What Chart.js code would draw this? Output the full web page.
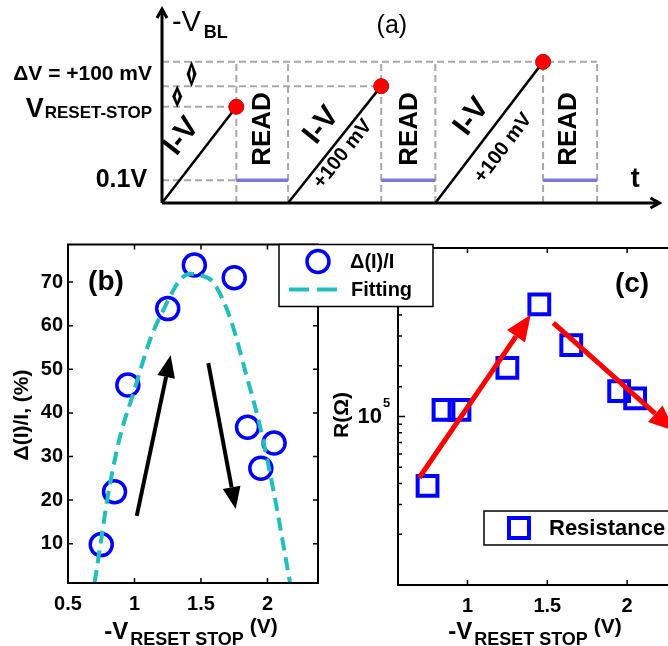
<!DOCTYPE html>
<html>
<head>
<meta charset="utf-8">
<script src="https://cdn.jsdelivr.net/npm/chart.js@4.4.1/dist/chart.umd.min.js"></script>
<style>
  html, body { margin: 0; padding: 0; background: #fff; }
  #wrap { position: relative; width: 668px; height: 646px; overflow: hidden; }
  canvas { position: absolute; }
</style>
</head>
<body>
<div id="wrap">
  <canvas id="chartA" width="668" height="215" style="left:0;top:0"></canvas>
  <canvas id="chartC" width="400" height="416" style="left:320px;top:230px"></canvas>
  <canvas id="chartB" width="440" height="416" style="left:0;top:230px"></canvas>
</div>
<script>
/* =========================
   DATA
 ========================= */
// (a) pulse scheme, t in arbitrary units, V in volts
const rampStartT = [0, 12.67, 27.47];
const rampEndT = [7.47, 22.03, 38.3];
const readEndT = [12.67, 27.47, 43.73];
const stopV = [0.424, 0.515, 0.622];
const readV = 0.1;

// (b) delta(I)/I vs -V reset stop
const bVolt = [0.75, 0.85, 0.95, 1.25, 1.45, 1.75, 1.85, 1.95, 2.05];
const bDelta = [9.8, 21.9, 46.4, 63.9, 73.9, 71.0, 36.7, 27.3, 33.1];
const fitVolt = [0.70, 0.745, 0.80, 0.89, 0.99, 1.12, 1.24, 1.34, 1.42, 1.50, 1.59, 1.72, 1.84, 1.94, 2.04, 2.17];
const fitDelta = [1, 10, 21, 34.4, 44.3, 57, 65, 70.4, 71.9, 71.5, 70, 61.7, 48.8, 37.4, 23, 1];
const bXTicks = [0.5, 1, 1.5, 2];
const bYTicks = [10, 20, 30, 40, 50, 60, 70];
const bArrows = [[1.017, 16.4, 1.272, 53.2], [1.555, 51.4, 1.761, 17.95]];

// (c) resistance vs -V reset stop
const cVolt = [0.75, 0.85, 0.95, 1.25, 1.45, 1.65, 1.95, 2.05];
const cRes = [38700, 109600, 109600, 194400, 463000, 265000, 141400, 128200];
const cXTicks = [1, 1.5, 2];
const cArrows = [[0.698, 43300, 1.396, 401000], [1.5375, 359000, 2.298, 82000]];

const FONT = "'Liberation Sans', Arial, sans-serif";
const BLUE = '#0000ff';
const CYAN = '#22bdbd';

/* =========================
   HELPERS
 ========================= */
function drawArrow(ctx, x1, y1, x2, y2, color, width, headLen, headW) {
  const ang = Math.atan2(y2 - y1, x2 - x1);
  const bx = x2 - Math.cos(ang) * headLen;
  const by = y2 - Math.sin(ang) * headLen;
  ctx.save();
  ctx.strokeStyle = color;
  ctx.fillStyle = color;
  ctx.lineWidth = width;
  ctx.beginPath();
  ctx.moveTo(x1, y1);
  ctx.lineTo(bx, by);
  ctx.stroke();
  ctx.beginPath();
  ctx.moveTo(x2, y2);
  ctx.lineTo(bx + Math.sin(ang) * headW / 2, by - Math.cos(ang) * headW / 2);
  ctx.lineTo(bx - Math.sin(ang) * headW / 2, by + Math.cos(ang) * headW / 2);
  ctx.closePath();
  ctx.fill();
  ctx.restore();
}

function text(ctx, str, x, y, size, opts = {}) {
  ctx.save();
  ctx.font = `${opts.weight || 'bold'} ${size}px ${FONT}`;
  ctx.fillStyle = '#000';
  ctx.textAlign = opts.align || 'left';
  ctx.textBaseline = opts.baseline || 'alphabetic';
  ctx.translate(x, y);
  if (opts.rot) ctx.rotate(opts.rot);
  ctx.fillText(str, 0, 0);
  ctx.restore();
}

// x title "-V_RESET STOP (V)" centred on cx
function xTitle(ctx, cx, base) {
  ctx.save();
  ctx.font = `bold 24px ${FONT}`; const w1 = ctx.measureText('-V').width;
  ctx.font = `bold 18px ${FONT}`; const w2 = ctx.measureText('RESET STOP').width;
  ctx.font = `bold 21px ${FONT}`; const w3 = ctx.measureText('(V)').width;
  ctx.restore();
  let x = cx - (w1 + w2 + w3 + 8) / 2;
  text(ctx, '-V', x, base, 24); x += w1 + 2;
  text(ctx, 'RESET STOP', x, base + 6, 18); x += w2 + 6;
  text(ctx, '(V)', x, base - 6, 21);
}

function drawFrame(chart, minorLog) {
  const { ctx, chartArea: a, scales: { x, y } } = chart;
  ctx.save();
  ctx.strokeStyle = '#000';
  ctx.lineWidth = 2;
  ctx.strokeRect(a.left, a.top, a.right - a.left, a.bottom - a.top);
  ctx.lineWidth = 1.5;
  ctx.beginPath();
  x.ticks.forEach(t => {
    const px = x.getPixelForValue(t.value);
    ctx.moveTo(px, a.bottom); ctx.lineTo(px, a.bottom - 5);
    ctx.moveTo(px, a.top); ctx.lineTo(px, a.top + 5);
  });
  y.ticks.forEach(t => {
    const py = y.getPixelForValue(t.value);
    let len = 5;
    if (minorLog) len = Number.isInteger(Math.log10(t.value)) ? 7 : 4;
    ctx.moveTo(a.left, py); ctx.lineTo(a.left + len, py);
    ctx.moveTo(a.right, py); ctx.lineTo(a.right - len, py);
  });
  ctx.stroke();
  ctx.restore();
}

const tickFont = { family: FONT, size: 20, weight: 'bold' };
const noPad = s => { s.paddingTop = 0; s.paddingBottom = 0; s.paddingLeft = 0; s.paddingRight = 0; };

/* =========================
   (a) SCHEME
 ========================= */
const dashed = { showLine: true, borderColor: '#a8a8a8', borderWidth: 2, borderDash: [7, 4], pointRadius: 0, clip: false, order: 3 };
const aSets = [];
aSets.push({ ...dashed, data: [{ x: 0, y: stopV[2] }, { x: readEndT[2], y: stopV[2] }] });
aSets.push({ ...dashed, data: [{ x: 0, y: stopV[1] }, { x: rampEndT[1], y: stopV[1] }] });
aSets.push({ ...dashed, data: [{ x: 0, y: stopV[0] }, { x: rampEndT[0], y: stopV[0] }] });
aSets.push({ ...dashed, data: [{ x: 0, y: readV }, { x: rampEndT[0], y: readV }] });
[...rampEndT, ...readEndT].forEach(t => {
  aSets.push({ ...dashed, data: [{ x: t, y: 0 }, { x: t, y: stopV[2] }] });
});
rampStartT.forEach((t0, i) => {
  aSets.push({ showLine: true, clip: false, order: 1, pointRadius: 0, borderColor: '#000', borderWidth: 2.5,
    data: [{ x: t0, y: 0 }, { x: rampEndT[i], y: stopV[i] }] });
  aSets.push({ showLine: true, clip: false, order: 2, pointRadius: 0, borderColor: '#7b7bd6', borderWidth: 3.5,
    data: [{ x: rampEndT[i], y: readV }, { x: readEndT[i], y: readV }] });
});
aSets.push({ showLine: false, clip: false, order: 0, pointRadius: 7.5, backgroundColor: '#ff0000', borderColor: '#c80000', borderWidth: 1,
  data: rampEndT.map((t, i) => ({ x: t, y: stopV[i] })) });

const aTextPlugin = {
  id: 'aText',
  afterDraw(chart) {
    const { ctx, scales: { x, y } } = chart;
    const X = v => x.getPixelForValue(v), Y = v => y.getPixelForValue(v);
    // axes with arrow heads
    ctx.save();
    ctx.strokeStyle = '#000';
    ctx.lineWidth = 3;
    ctx.beginPath();
    ctx.moveTo(X(0), Y(0)); ctx.lineTo(X(0), Y(0.855));
    ctx.moveTo(X(0) - 5, Y(0.855) + 9); ctx.lineTo(X(0), Y(0.855)); ctx.lineTo(X(0) + 5, Y(0.855) + 9);
    ctx.moveTo(X(0), Y(0)); ctx.lineTo(X(50), Y(0));
    ctx.moveTo(X(50) - 9, Y(0) - 5); ctx.lineTo(X(50), Y(0)); ctx.lineTo(X(50) - 9, Y(0) + 5);
    ctx.stroke();
    // small double arrows marking the 100 mV steps
    [[2.97, stopV[1], stopV[2]], [1.53, stopV[0], stopV[1]]].forEach(([t, v0, v1]) => {
      const px = X(t), top = Y(v1) - 1, bot = Y(v0) + 1, mid = (top + bot) / 2;
      ctx.fillStyle = '#000';
      ctx.beginPath();
      ctx.moveTo(px, top); ctx.lineTo(px + 5, mid); ctx.lineTo(px, bot); ctx.lineTo(px - 5, mid); ctx.closePath();
      ctx.fill();
      ctx.fillStyle = '#fff';
      ctx.beginPath();
      ctx.moveTo(px, top + 6); ctx.lineTo(px + 1.6, mid); ctx.lineTo(px, bot - 6); ctx.lineTo(px - 1.6, mid); ctx.closePath();
      ctx.fill();
    });
    ctx.restore();

    text(ctx, '-V', X(1.0), Y(0.759), 29, { weight: 'normal' });
    text(ctx, 'BL', X(4.2), Y(0.728), 18);
    text(ctx, '(a)', X(23.1), Y(0.78), 25, { weight: 'normal', align: 'center', baseline: 'middle' });
    text(ctx, 'ΔV = +100 mV', X(-1.0), Y(0.566), 21, { align: 'right', baseline: 'middle' });
    ctx.save();
    ctx.font = `bold 17px ${FONT}`;
    const wSub = ctx.measureText('RESET-STOP').width;
    ctx.restore();
    text(ctx, 'RESET-STOP', X(-1.0), Y(0.374), 17, { align: 'right' });
    text(ctx, 'V', X(-1.0) - wSub - 1, Y(0.379), 27, { align: 'right' });
    text(ctx, '0.1V', X(-1.5), Y(readV), 25, { align: 'right', baseline: 'middle' });
    text(ctx, 't', X(47.1), Y(0.105), 27, { baseline: 'middle' });

    const ivPos = [[1.97, 0.2934], [16.04, 0.342], [31.13, 0.380]];
    const mvPos = [null, [18.17, 0.216], [34.3, 0.242]];
    const readT = [10.1, 24.9, 40.9];
    rampStartT.forEach((t0, i) => {
      const ang = Math.atan2(Y(stopV[i]) - Y(0), X(rampEndT[i]) - X(t0));
      text(ctx, 'I-V', X(ivPos[i][0]), Y(ivPos[i][1]), 30, { align: 'center', baseline: 'middle', rot: ang });
      if (mvPos[i]) text(ctx, '+100 mV', X(mvPos[i][0]), Y(mvPos[i][1]), 20, { align: 'center', baseline: 'middle', rot: ang });
      text(ctx, 'READ', X(readT[i]), Y(0.326), 26, { align: 'center', baseline: 'middle', rot: -Math.PI / 2 });
    });
  }
};

new Chart(document.getElementById('chartA'), {
  type: 'scatter',
  data: { datasets: aSets },
  options: {
    responsive: false,
    animation: false,
    layout: { padding: { left: 162, right: 6, top: 9, bottom: 12 } },
    plugins: { legend: { display: false }, tooltip: { enabled: false } },
    scales: {
      x: { type: 'linear', min: 0, max: 50, display: false },
      y: { type: 'linear', min: 0, max: 0.855, display: false }
    }
  },
  plugins: [aTextPlugin]
});

/* =========================
   (b) DELTA(I)/I
 ========================= */
const bPlugin = {
  id: 'bDeco',
  afterDraw(chart) {
    const { ctx, chartArea: a, scales: { x, y } } = chart;
    drawFrame(chart, false);
    bArrows.forEach(([x1, y1, x2, y2]) => {
      drawArrow(ctx, x.getPixelForValue(x1), y.getPixelForValue(y1), x.getPixelForValue(x2), y.getPixelForValue(y2), '#000', 4, 22, 18);
    });
    text(ctx, '(b)', 106, a.top + 38, 28, { align: 'center', baseline: 'middle' });
    text(ctx, 'Δ(I)/I, (%)', 22, 185, 21, { align: 'center', baseline: 'middle', rot: -Math.PI / 2 });
    xTitle(ctx, 191, 409);

    // legend
    const lx = a.right - 39, ly = a.top, lw = 154, lh = 62;
    ctx.save();
    ctx.fillStyle = '#fff';
    ctx.fillRect(lx, ly, lw, lh);
    ctx.strokeStyle = '#000';
    ctx.lineWidth = 1.5;
    ctx.strokeRect(lx, ly, lw, lh);
    ctx.strokeStyle = BLUE;
    ctx.lineWidth = 3.5;
    ctx.beginPath();
    ctx.arc(lx + 39, ly + 17, 11, 0, Math.PI * 2);
    ctx.stroke();
    ctx.strokeStyle = CYAN;
    ctx.lineWidth = 4;
    ctx.setLineDash([20, 8]);
    ctx.beginPath();
    ctx.moveTo(lx + 10, ly + 45); ctx.lineTo(lx + 64, ly + 45);
    ctx.stroke();
    ctx.restore();
    text(ctx, 'Δ(I)/I', lx + 71, ly + 18, 20, { baseline: 'middle' });
    text(ctx, 'Fitting', lx + 72, ly + 46, 20, { baseline: 'middle' });
  }
};

new Chart(document.getElementById('chartB'), {
  type: 'scatter',
  data: {
    datasets: [
      {
        data: bVolt.map((v, i) => ({ x: v, y: bDelta[i] })),
        pointStyle: 'circle', pointRadius: 11, borderWidth: 3.5,
        borderColor: BLUE, backgroundColor: 'rgba(0,0,0,0)', order: 1
      },
      {
        data: fitVolt.map((v, i) => ({ x: v, y: fitDelta[i] })),
        showLine: true, pointRadius: 0, borderColor: CYAN, borderWidth: 4,
        borderDash: [13, 7], cubicInterpolationMode: 'monotone', order: 0
      }
    ]
  },
  options: {
    responsive: false,
    animation: false,
    layout: { padding: { left: 0, right: 122, top: 12, bottom: 0 } },
    plugins: { legend: { display: false }, tooltip: { enabled: false } },
    scales: {
      x: {
        type: 'linear', min: 0.5, max: 2.38,
        afterBuildTicks: s => { s.ticks = bXTicks.map(v => ({ value: v })); },
        afterFit: s => { s.height = 63; noPad(s); },
        grid: { display: false, drawTicks: false }, border: { display: false },
        ticks: { font: tickFont, color: '#000', padding: 9, maxRotation: 0, autoSkip: false, callback: v => String(v) }
      },
      y: {
        type: 'linear', min: 1, max: 78.6,
        afterBuildTicks: s => { s.ticks = bYTicks.map(v => ({ value: v })); },
        afterFit: s => { s.width = 68; noPad(s); },
        grid: { display: false, drawTicks: false }, border: { display: false },
        ticks: { font: tickFont, color: '#000', padding: 5, autoSkip: false, callback: v => String(v) }
      }
    }
  },
  plugins: [bPlugin]
});

/* =========================
   (c) RESISTANCE
 ========================= */
const cPlugin = {
  id: 'cDeco',
  afterDraw(chart) {
    const { ctx, chartArea: a, scales: { x, y } } = chart;
    drawFrame(chart, true);
    cArrows.forEach(([x1, y1, x2, y2]) => {
      drawArrow(ctx, x.getPixelForValue(x1), y.getPixelForValue(y1), x.getPixelForValue(x2), y.getPixelForValue(y2), '#ff0000', 5, 26, 22);
    });
    const p5 = y.getPixelForValue(1e5);
    text(ctx, '5', a.left - 15, p5 - 13, 13, { baseline: 'middle' });
    text(ctx, '(c)', 312, a.top + 36, 28, { align: 'center', baseline: 'middle' });
    text(ctx, 'R(Ω)', 22, 185, 21, { align: 'center', baseline: 'middle', rot: -Math.PI / 2 });
    xTitle(ctx, 215, 409);

    // legend
    const lx = a.left + 86, ly = a.bottom - 74, lw = 200, lh = 34;
    ctx.save();
    ctx.fillStyle = '#fff';
    ctx.fillRect(lx, ly, lw, lh);
    ctx.strokeStyle = '#000';
    ctx.lineWidth = 1.5;
    ctx.strokeRect(lx, ly, lw, lh);
    ctx.strokeStyle = BLUE;
    ctx.lineWidth = 4;
    ctx.strokeRect(lx + 25, ly + 7, 20, 20);
    ctx.restore();
    text(ctx, 'Resistance', lx + 65, ly + 18, 22, { baseline: 'middle' });
  }
};

new Chart(document.getElementById('chartC'), {
  type: 'scatter',
  data: {
    datasets: [{
      data: cVolt.map((v, i) => ({ x: v, y: cRes[i] })),
      pointStyle: 'rect', pointRadius: 14, borderWidth: 4,
      borderColor: BLUE, backgroundColor: 'rgba(0,0,0,0)'
    }]
  },
  options: {
    responsive: false,
    animation: false,
    layout: { padding: { left: 0, right: 29, top: 12, bottom: 0 } },
    plugins: { legend: { display: false }, tooltip: { enabled: false } },
    scales: {
      x: {
        type: 'linear', min: 0.565, max: 2.4,
        afterBuildTicks: s => { s.ticks = cXTicks.map(v => ({ value: v })); },
        afterFit: s => { s.height = 61; noPad(s); },
        grid: { display: false, drawTicks: false }, border: { display: false },
        ticks: { font: tickFont, color: '#000', padding: 9, maxRotation: 0, autoSkip: false, callback: v => String(v) }
      },
      y: {
        type: 'logarithmic', min: 1e4, max: 1e6,
        afterFit: s => { s.width = 78; noPad(s); },
        grid: { display: false, drawTicks: false }, border: { display: false },
        ticks: {
          font: { family: FONT, size: 22, weight: 'bold' }, color: '#000', padding: 16, autoSkip: false,
          callback: v => (v === 1e5 ? '10' : '')
        }
      }
    }
  },
  plugins: [cPlugin]
});
</script>
</body>
</html>
